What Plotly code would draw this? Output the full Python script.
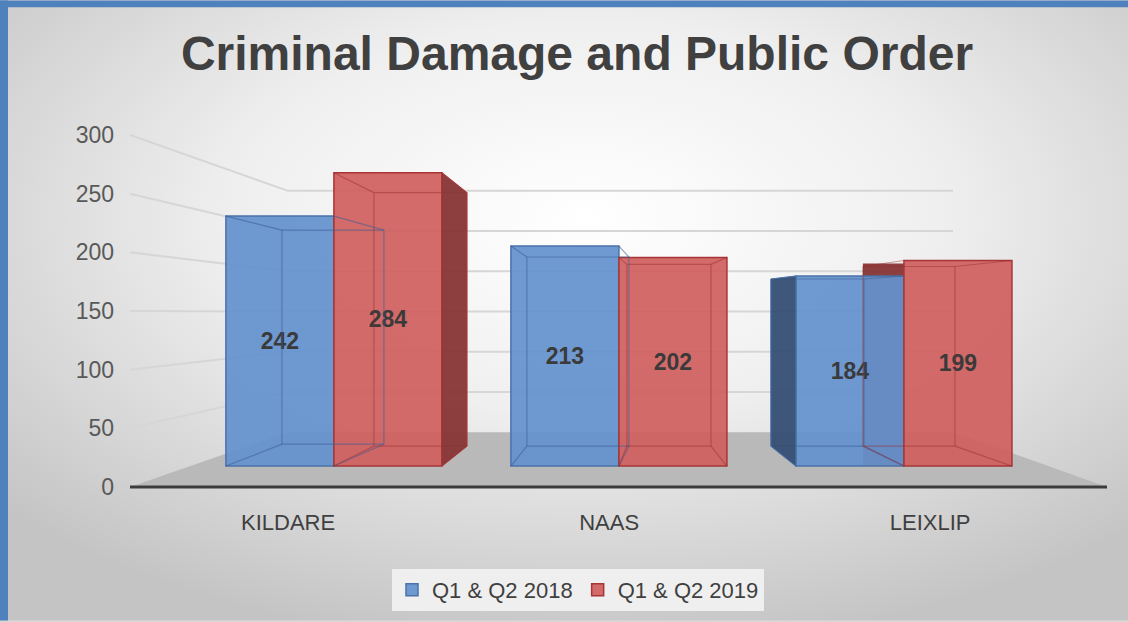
import base64
import plotly.graph_objects as go

# data
categories = ["KILDARE", "NAAS", "LEIXLIP"]
series_names = ["Q1 & Q2 2018", "Q1 & Q2 2019"]
values_2018 = [242, 213, 184]
values_2019 = [284, 202, 199]
y_ticks = [0, 50, 100, 150, 200, 250, 300]

W, H = 1128, 622
L, R, T, B = 125, 20, 135, 134
PW, PH = W - L - R, H - T - B
XPX, YPX = 285, 1.036          # pixels per x unit / per y2 unit

BLUE = "rgba(100,145,205,0.93)"
BLUE_LINE = "#4a72a8"
BLUE_SIDE = "rgba(52,78,115,0.95)"
RED = "rgba(208,96,96,0.93)"
RED_LINE = "#a83535"
RED_SIDE = "rgba(135,52,52,0.95)"
FONT = "Liberation Sans, Arial, sans-serif"

# perspective of each bar's back face, in pixels: left shift, right shift, top drop, bottom rise
depth_2018 = [(56, 50, 14, 22), (16, 10, 11, 20), (-25, -40, 3, 20)]
depth_2019 = [(40, 25, 20, 20), (8, -16, 7, 20), (-41, -57, 6, 20)]


def px(x):
    return (x - L) / PW


def py(y):
    return (T + PH - y) / PH


half = 0.379 / 2
fig = go.Figure()

# red side face of LEIXLIP sits behind the blue bar
fig.add_trace(go.Bar(
    x=[2 - 0.072], y=[values_2019[2] - 3], width=[0.144],
    marker=dict(color=RED_SIDE, line=dict(width=0)),
    xaxis="x", yaxis="y2", showlegend=False, hoverinfo="skip"))

for name, vals, off, col, lc in [
        (series_names[0], values_2018, -half, BLUE, BLUE_LINE),
        (series_names[1], values_2019, half, RED, RED_LINE)]:
    fig.add_trace(go.Bar(
        x=[i + off for i in range(len(categories))], y=vals, width=0.379,
        name=name, text=[str(v) for v in vals],
        textposition="inside", insidetextanchor="middle", textangle=0,
        insidetextfont=dict(family=FONT, size=23, color="#3a3a3a"),
        texttemplate="<b>%{text}</b>",
        marker=dict(color=col, line=dict(color=lc, width=1.5)),
        xaxis="x", yaxis="y2"))

# faint back edges of each box
for vals, off, depth, lc in [(values_2018, -half, depth_2018, "rgba(60,95,150,0.55)"),
                             (values_2019, half, depth_2019, "rgba(150,45,45,0.45)")]:
    for i, v in enumerate(vals):
        dl, dr, dt, db = depth[i]
        x0, x1 = i + off - half, i + off + half
        bx0, bx1 = x0 + dl / XPX, x1 + dr / XPX
        bt, bb = v - dt / YPX, db / YPX
        xs = [bx0, bx1, bx1, bx0, bx0, None,
              x0, bx0, None, x1, bx1, None, x0, bx0, None, x1, bx1]
        ys = [bt, bt, bb, bb, bt, None,
              v, bt, None, v, bt, None, 0, bb, None, 0, bb]
        fig.add_trace(go.Scatter(x=xs, y=ys, mode="lines", line=dict(color=lc, width=1.2),
                                 xaxis="x", yaxis="y2", showlegend=False, hoverinfo="skip"))

# visible side faces of the outer bars
dx = 25 / XPX
v = values_2019[0]
xr = 2 * half
fig.add_trace(go.Scatter(
    x=[xr, xr + dx, xr + dx, xr, xr], y=[v, v - 19.3, 19.3, 0, v],
    fill="toself", fillcolor=RED_SIDE, mode="lines",
    line=dict(color=RED_LINE, width=1), xaxis="x", yaxis="y2",
    showlegend=False, hoverinfo="skip"))
v = values_2018[2]
xl = 2 - 2 * half
fig.add_trace(go.Scatter(
    x=[xl, xl - dx, xl - dx, xl, xl], y=[v, v - 3, 19.3, 0, v],
    fill="toself", fillcolor=BLUE_SIDE, mode="lines",
    line=dict(color=BLUE_LINE, width=1), xaxis="x", yaxis="y2",
    showlegend=False, hoverinfo="skip"))

# invisible helper so the label axes get drawn
fig.add_trace(go.Scatter(x=[0, 1, 2], y=[0, 0, 0], xaxis="x2", yaxis="y",
                         mode="markers", marker=dict(opacity=0),
                         showlegend=False, hoverinfo="skip"))

# background gradient
svg = ('<svg xmlns="http://www.w3.org/2000/svg" width="1128" height="622" '
       'preserveAspectRatio="none"><defs><radialGradient id="g" cx="52%" cy="35%" r="70%">'
       '<stop offset="0" stop-color="#ffffff"/><stop offset="0.45" stop-color="#efefef"/>'
       '<stop offset="1" stop-color="#c4c4c4"/></radialGradient></defs>'
       '<rect width="1128" height="622" fill="url(#g)"/></svg>')
src = "data:image/svg+xml;base64," + base64.b64encode(svg.encode()).decode()
fig.add_layout_image(dict(source=src, xref="paper", yref="paper",
                          x=px(0), y=py(0), sizex=W / PW, sizey=H / PH,
                          sizing="stretch", layer="below", xanchor="left", yanchor="top"))

shapes = []
# floor
shapes.append(dict(type="path", xref="paper", yref="paper", layer="below",
                   path=f"M {px(130)} {py(488)} L {px(288)} {py(433)} L {px(953)} {py(433)} "
                        f"L {px(1107)} {py(488)} Z",
                   fillcolor="#b9b9b9", line=dict(width=0)))
# walls gridlines (3D)
for t in y_ticks[1:]:
    y_front = 488 - t * 353 / 300
    y_back = 433 - t * 242 / 300
    shapes.append(dict(type="path", xref="paper", yref="paper", layer="below",
                       path=f"M {px(130)} {py(y_front)} L {px(288)} {py(y_back)} L {px(953)} {py(y_back)}",
                       line=dict(color="#d6d6d6", width=2)))
shapes.append(dict(type="line", xref="paper", yref="paper", layer="below",
                   x0=px(130), x1=px(1107), y0=py(488), y1=py(488),
                   line=dict(color="#3c3c3c", width=3)))
# blue frame
shapes.append(dict(type="rect", xref="paper", yref="paper", x0=px(0), x1=px(8),
                   y0=py(622), y1=py(0), fillcolor="#4f81bd", line=dict(width=0)))
shapes.append(dict(type="rect", xref="paper", yref="paper", x0=px(0), x1=px(W),
                   y0=py(7), y1=py(0), fillcolor="#4f81bd", line=dict(width=0)))

fig.update_layout(
    width=W, height=H,
    margin=dict(l=L, r=R, t=T, b=B),
    paper_bgcolor="#d8d8d8", plot_bgcolor="rgba(0,0,0,0)",
    barmode="overlay",
    shapes=shapes,
    title=dict(text="<b>Criminal Damage and Public Order</b>", xref="container", x=577 / W,
               xanchor="center", y=1 - 53 / H, yanchor="middle",
               font=dict(family=FONT, size=48, color="#404040")),
    xaxis=dict(range=[-0.733, 2.716], visible=False, fixedrange=True),
    xaxis2=dict(range=[-0.508, 2.554], overlaying="x", anchor="y", side="bottom",
                tickvals=[0, 1, 2], ticktext=categories, showgrid=False, zeroline=False,
                showline=False, ticks="", ticklabelstandoff=20,
                tickfont=dict(family=FONT, size=22, color="#404040")),
    yaxis=dict(range=[0, 300], tickvals=y_ticks, showgrid=False, zeroline=False,
               showline=False, ticks="", ticklabelstandoff=10, anchor="x",
               tickfont=dict(family=FONT, size=23, color="#595959")),
    yaxis2=dict(range=[-20.27, 320.5], overlaying="y", visible=False),
    legend=dict(orientation="h", x=px(578), xanchor="center", y=py(569), yanchor="top",
                bgcolor="#efefef", font=dict(family=FONT, size=22, color="#404040"),
                itemwidth=30, traceorder="normal"),
    showlegend=True,
)

fig.write_html("out.html", config={"displayModeBar": False},
               post_script="document.body.style.margin='0';")
